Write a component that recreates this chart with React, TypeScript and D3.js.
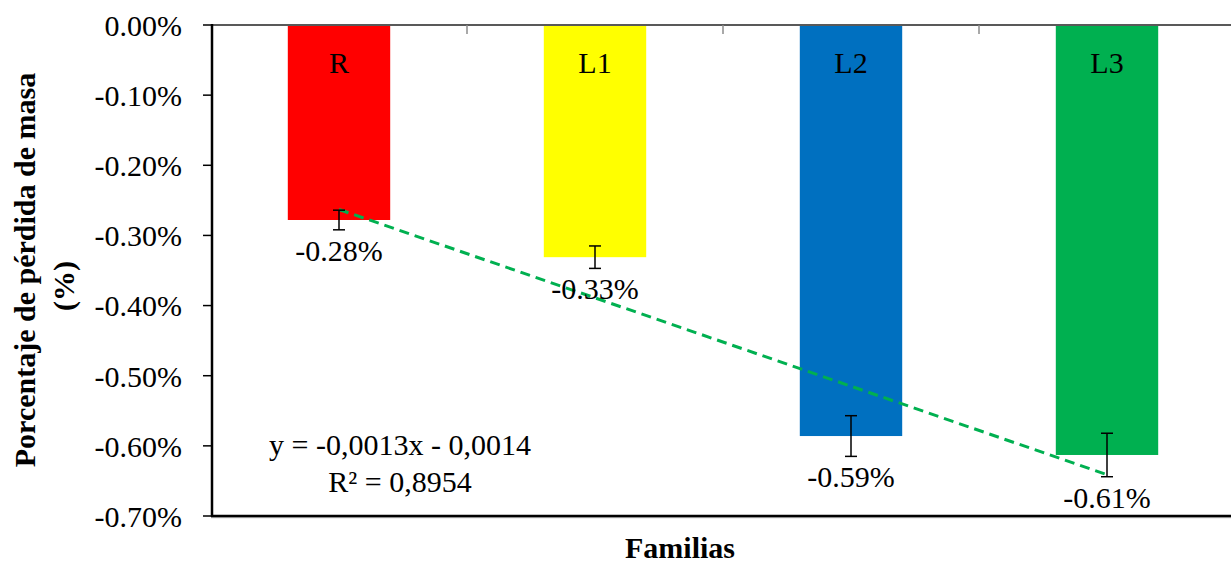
import React from "react";
import * as d3 from "d3";

const categories = ["R", "L1", "L2", "L3"];
const values = [-0.278, -0.331, -0.586, -0.613];
const errors = [0.014, 0.016, 0.029, 0.031];
const valueLabels = ["-0.28%", "-0.33%", "-0.59%", "-0.61%"];
const colors = ["#FF0000", "#FFFF00", "#0070C0", "#00B050"];
const yTicks = [0, -0.1, -0.2, -0.3, -0.4, -0.5, -0.6, -0.7];
const equationLines = ["y = -0,0013x - 0,0014", "R² = 0,8954"];

const W = 1231;
const H = 565;
const FONT = "Liberation Serif, Times New Roman, Tinos, DejaVu Serif, serif";

const fmt = d3.formatLocale({ decimal: ".", thousands: ",", grouping: [3], currency: ["", ""], minus: "-" }).format(".2f");

export default function App() {
  const left = 211;
  const right = 1235;
  const top = 25;
  const bottom = 516;

  const x = d3.scaleBand<string>().domain(categories).range([left, right]).paddingInner(0.6).paddingOuter(0.3);
  const y = d3.scaleLinear().domain([0, -0.7]).range([top, bottom]);

  const xs = categories.map((_, i) => i + 1);
  const mx = d3.mean(xs) as number;
  const my = d3.mean(values) as number;
  const slope =
    d3.sum(xs.map((xi, i) => (xi - mx) * (values[i] - my))) /
    d3.sum(xs.map((xi) => (xi - mx) * (xi - mx)));
  const intercept = my - slope * mx;
  const cx = (i: number) => (x(categories[i]) as number) + x.bandwidth() / 2;
  const trendPts: [number, number][] = [0, categories.length - 1].map((i) => [cx(i), y(slope * (i + 1) + intercept)]);
  const line = d3.line();

  const step = x.step();
  const boundaries = categories.slice(1).map((c) => (x(c) as number) - (step - x.bandwidth()) / 2);

  const txt = { fontFamily: FONT };

  return (
    <svg width={W} height={H} style={{ position: "absolute", left: 0, top: 0, background: "#fff", fontFamily: FONT }}>
      <rect x={0} y={0} width={W} height={H} fill="#fff" />
      {categories.map((c, i) => (
        <rect key={c} x={x(c)} y={y(0)} width={x.bandwidth()} height={y(values[i]) - y(0)} fill={colors[i]} />
      ))}
      {categories.map((c, i) => (
        <text key={"c" + c} x={cx(i)} y={top + 48} textAnchor="middle" fontSize={30} fill="#000" style={txt}>
          {c}
        </text>
      ))}
      <path d={line(trendPts) as string} stroke="#00B050" strokeWidth={3} strokeDasharray="10,6" fill="none" />
      {categories.map((c, i) => {
        const x0 = cx(i);
        const y1 = y(values[i] + errors[i]);
        const y2 = y(values[i] - errors[i]);
        return (
          <g key={"e" + c} stroke="#000" strokeWidth={1.5}>
            <line x1={x0} x2={x0} y1={y1} y2={y2} />
            <line x1={x0 - 6} x2={x0 + 6} y1={y1} y2={y1} />
            <line x1={x0 - 6} x2={x0 + 6} y1={y2} y2={y2} />
          </g>
        );
      })}
      {categories.map((c, i) => (
        <text key={"v" + c} x={cx(i)} y={y(values[i] - errors[i]) + 31} textAnchor="middle" fontSize={30} fill="#000" style={txt}>
          {valueLabels[i]}
        </text>
      ))}
      {equationLines.map((t, i) => (
        <text key={"eq" + i} x={400} y={455 + i * 37} textAnchor="middle" fontSize={30} fill="#000" style={txt}>
          {t}
        </text>
      ))}
      <line x1={left} x2={W} y1={top} y2={top} stroke="#595959" strokeWidth={2} />
      {boundaries.map((b, i) => (
        <line key={"tb" + i} x1={b} x2={b} y1={top} y2={top + 9} stroke="#8c8c8c" strokeWidth={1.5} />
      ))}
      <line x1={left} x2={W} y1={bottom + 1.5} y2={bottom + 1.5} stroke="#bfbfbf" strokeWidth={1.5} />
      <line x1={left} x2={W} y1={bottom} y2={bottom} stroke="#000" strokeWidth={2.5} />
      <line x1={left + 1} x2={left + 1} y1={top - 1} y2={bottom + 1} stroke="#000" strokeWidth={2.5} />
      {yTicks.map((t) => (
        <g key={"yt" + t}>
          <line x1={left - 8} x2={left + 1} y1={y(t)} y2={y(t)} stroke="#000" strokeWidth={1.5} />
          <text x={182} y={y(t)} dy="0.36em" textAnchor="end" fontSize={30} fill="#000" style={txt}>
            {fmt(t) + "%"}
          </text>
        </g>
      ))}
      <text x={680} y={558} textAnchor="middle" fontSize={30} fontWeight="bold" fill="#000" style={txt}>
        Familias
      </text>
      <text transform="translate(35,270) rotate(-90)" textAnchor="middle" fontSize={30} fontWeight="bold" fill="#000" style={txt}>
        Porcentaje de pérdida de masa
      </text>
      <text transform="translate(74,286) rotate(-90)" textAnchor="middle" fontSize={30} fontWeight="bold" fill="#000" style={txt}>
        (%)
      </text>
    </svg>
  );
}
